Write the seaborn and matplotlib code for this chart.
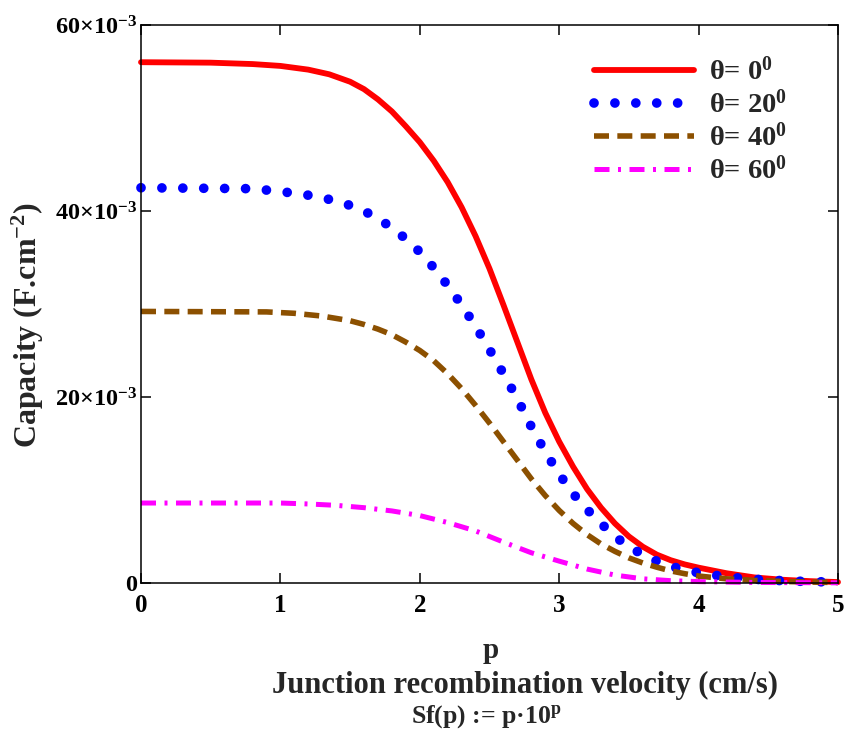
import numpy as np
import pandas as pd
import matplotlib
matplotlib.use("Agg")
import matplotlib.pyplot as plt
import seaborn as sns

# Capacity (in units of 10^-3 F.cm^-2) versus p, where Sf(p) = p*10^p
p_theta0 = [0.0, 0.5, 0.8, 1.0, 1.2, 1.35, 1.5, 1.6, 1.7, 1.8, 1.9, 2.0, 2.1, 2.2,
            2.3, 2.4, 2.5, 2.6, 2.7, 2.8, 2.9, 3.0, 3.1, 3.2, 3.3, 3.4, 3.5, 3.6,
            3.7, 3.8, 3.9, 4.0, 4.2, 4.4, 4.6, 4.8, 5.0]
cap_theta0 = [56.0, 55.95, 55.8, 55.6, 55.2, 54.7, 53.9, 53.1, 52.0, 50.7, 49.1, 47.4,
              45.4, 43.1, 40.4, 37.3, 33.8, 29.9, 25.9, 21.9, 18.3, 15.2, 12.5, 10.1,
              8.1, 6.4, 5.0, 3.9, 3.05, 2.45, 2.0, 1.65, 1.05, 0.6, 0.35, 0.2, 0.1]

p_theta20 = [0.0, 0.8, 1.0, 1.2, 1.4, 1.5, 1.6, 1.7, 1.8, 1.9, 2.0, 2.1, 2.2, 2.3,
             2.4, 2.5, 2.6, 2.7, 2.8, 2.9, 3.0, 3.1, 3.2, 3.3, 3.4, 3.5, 3.6, 3.7,
             3.8, 3.9, 4.0, 4.2, 4.4, 4.6, 4.8, 5.0]
cap_theta20 = [42.5, 42.4, 42.1, 41.7, 41.1, 40.6, 40.0, 39.2, 38.2, 37.0, 35.6, 33.9,
               32.0, 29.9, 27.6, 25.1, 22.5, 19.8, 16.8, 14.1, 11.7, 9.6, 7.9, 6.4,
               5.0, 3.9, 3.05, 2.35, 1.8, 1.4, 1.1, 0.65, 0.4, 0.25, 0.15, 0.1]

p_theta40 = [0.0, 0.9, 1.1, 1.3, 1.5, 1.6, 1.7, 1.8, 1.9, 2.0, 2.1, 2.2, 2.3, 2.4,
             2.5, 2.6, 2.7, 2.8, 2.9, 3.0, 3.1, 3.2, 3.3, 3.4, 3.5, 3.6, 3.7, 3.8,
             3.9, 4.0, 4.2, 4.4, 4.6, 4.8, 5.0]
cap_theta40 = [29.2, 29.15, 29.0, 28.7, 28.2, 27.8, 27.3, 26.7, 25.9, 25.0, 23.9, 22.5,
               20.9, 19.1, 17.2, 15.2, 13.2, 11.2, 9.4, 7.8, 6.4, 5.2, 4.2, 3.4, 2.7,
               2.15, 1.7, 1.3, 1.0, 0.75, 0.45, 0.28, 0.17, 0.1, 0.05]

p_theta60 = [0.0, 1.0, 1.2, 1.4, 1.6, 1.8, 2.0, 2.2, 2.4, 2.6, 2.8, 3.0, 3.2, 3.4,
             3.6, 3.8, 4.0, 4.4, 5.0]
cap_theta60 = [8.6, 8.6, 8.5, 8.35, 8.1, 7.75, 7.25, 6.5, 5.6, 4.4, 3.25, 2.35, 1.5,
               0.85, 0.45, 0.25, 0.15, 0.06, 0.02]

angles = ["0", "20", "40", "60"]
x_ticks = [0, 1, 2, 3, 4, 5]
x_tick_labels = ["0", "1", "2", "3", "4", "5"]
y_ticks = [0.0, 0.02, 0.04, 0.06]
y_tick_labels = ["0", r"$20{\times}10^{-3}$", r"$40{\times}10^{-3}$", r"$60{\times}10^{-3}$"]

series = [(p_theta0, cap_theta0), (p_theta20, cap_theta20),
          (p_theta40, cap_theta40), (p_theta60, cap_theta60)]

sns.set_style("ticks")
plt.rcParams.update({
    "font.family": ["Liberation Serif", "DejaVu Serif"],
    "font.weight": "bold",
    "mathtext.fontset": "custom",
    "mathtext.rm": "Liberation Serif:bold",
    "mathtext.it": "Liberation Serif:bold",
    "mathtext.bf": "Liberation Serif:bold",
    "axes.linewidth": 1.1,
    "axes.edgecolor": "black",
})

fig = plt.figure(figsize=(8.44, 7.38), dpi=100)
ax = fig.add_axes([141 / 844, 1 - 583 / 738, 697 / 844, 558 / 738])

line_styles = [
    dict(color="#FF0000", linewidth=4.2, linestyle="-"),
    dict(color="#0000FF", linewidth=7.0, linestyle=(0, (0.001, 2.15)),
         dash_capstyle="round"),
    dict(color="#8C5000", linewidth=4.0, linestyle=(0, (2.7, 1.5))),
    dict(color="#FF00FF", linewidth=3.6, linestyle=(0, (3.0, 1.7, 0.6, 1.7))),
]

for (p_vals, c_vals), ang, st in zip(series, angles, line_styles):
    df = pd.DataFrame({"p": p_vals, "C": np.asarray(c_vals) * 1e-3})
    sns.lineplot(data=df, x="p", y="C", ax=ax, label=f"θ= {ang}$^{{0}}$",
                 clip_on=False, **st)

ax.set_xlim(0, 5)
ax.set_ylim(0, 0.06)
ax.set_xticks(x_ticks)
ax.set_xticklabels(x_tick_labels)
ax.set_yticks(y_ticks)
ax.set_yticklabels(y_tick_labels)
ax.tick_params(direction="in", length=7.5, width=1.1, top=True, right=True,
               colors="black")
ax.tick_params(axis="x", pad=8, labelsize=18)
ax.tick_params(axis="y", pad=3, labelsize=17.5)
for s in ax.spines.values():
    s.set_visible(True)
    s.set_color("black")

ax.set_xlabel("Junction recombination velocity (cm/s)", fontsize=22, fontweight="bold")
ax.xaxis.set_label_coords(0.551, (583 - 671) / 558)
ax.set_ylabel("Capacity (F.cm$^{-2}$)", fontsize=23, fontweight="bold")
ax.yaxis.label.set_rotation_mode("default")
ax.yaxis.label.set_va("center")
ax.yaxis.label.set_ha("center")
ax.yaxis.set_label_coords((28 - 141) / 697, (583 - 325) / 558)

fig.text(491 / 844, 1 - 651 / 738, "p", ha="center", va="center",
         fontsize=21, fontweight="bold")
fig.text(486 / 844, 1 - 717 / 738, "Sf(p) := p·10$^{p}$", ha="center",
         va="center", fontsize=18.5, fontweight="bold")

ax.legend(loc="upper left", bbox_to_anchor=(0.65, 0.942), frameon=False,
          borderpad=0, borderaxespad=0, handlelength=3.5, handletextpad=0.55,
          labelspacing=0.16, prop=dict(size=20.5, weight="bold"))

fig.savefig("out.png", dpi=100)
